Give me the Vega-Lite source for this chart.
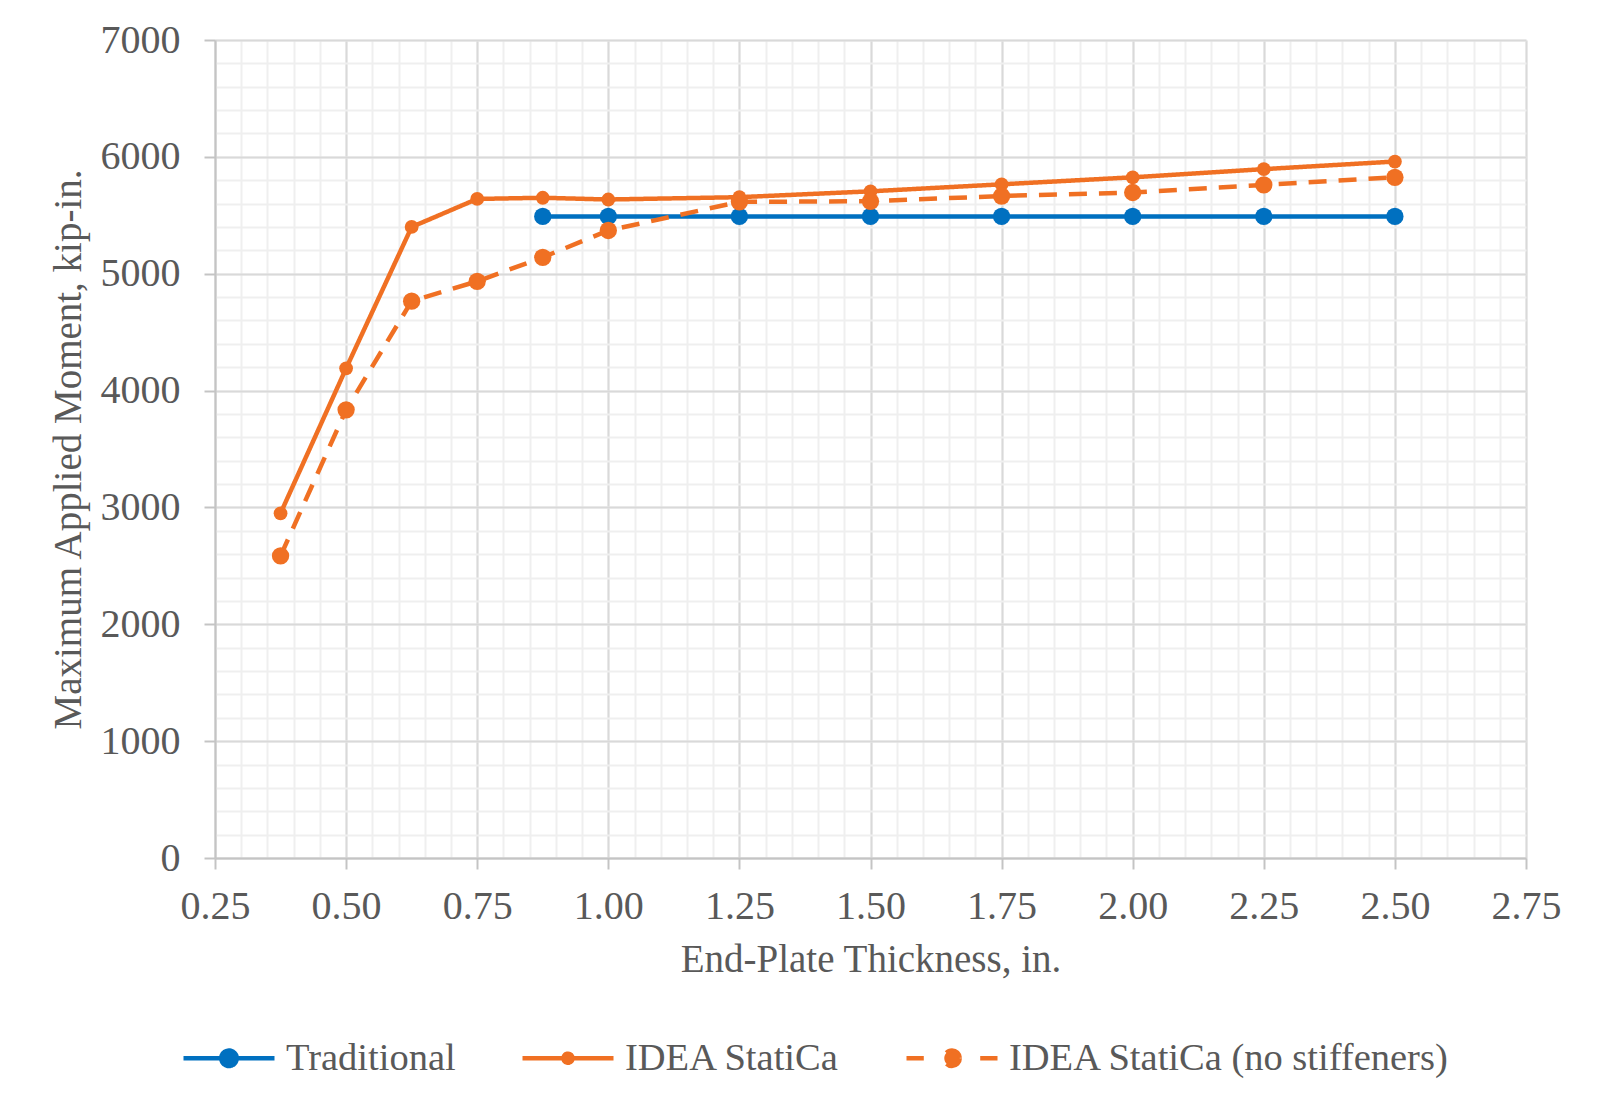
{
  "$schema": "https://vega.github.io/schema/vega-lite/v6.json",
  "autosize": {"type": "none"},
  "width": 1311,
  "height": 818,
  "padding": {"left": 215, "top": 40, "right": 74, "bottom": 251},
  "background": "white",
  "config": {
    "view": {"stroke": null},
    "font": "Liberation Serif",
    "axis": {
      "labelFont": "Liberation Serif",
      "titleFont": "Liberation Serif",
      "labelColor": "#595959",
      "titleColor": "#595959",
      "labelFontSize": 40,
      "titleFontSize": 39,
      "titleFontWeight": "normal",
      "labelFlush": false,
      "labelOverlap": false
    },
    "legend": {"symbolSize": 8281}
  },
  "data": {
    "values": [
      {"t": 0.875, "m": 5490, "s": "Traditional"},
      {"t": 1.0, "m": 5490, "s": "Traditional"},
      {"t": 1.25, "m": 5490, "s": "Traditional"},
      {"t": 1.5, "m": 5490, "s": "Traditional"},
      {"t": 1.75, "m": 5490, "s": "Traditional"},
      {"t": 2.0, "m": 5490, "s": "Traditional"},
      {"t": 2.25, "m": 5490, "s": "Traditional"},
      {"t": 2.5, "m": 5490, "s": "Traditional"},
      {"t": 0.375, "m": 2950, "s": "IDEA StatiCa"},
      {"t": 0.5, "m": 4190, "s": "IDEA StatiCa"},
      {"t": 0.625, "m": 5400, "s": "IDEA StatiCa"},
      {"t": 0.75, "m": 5640, "s": "IDEA StatiCa"},
      {"t": 0.875, "m": 5650, "s": "IDEA StatiCa"},
      {"t": 1.0, "m": 5635, "s": "IDEA StatiCa"},
      {"t": 1.25, "m": 5655, "s": "IDEA StatiCa"},
      {"t": 1.5, "m": 5705, "s": "IDEA StatiCa"},
      {"t": 1.75, "m": 5765, "s": "IDEA StatiCa"},
      {"t": 2.0, "m": 5825, "s": "IDEA StatiCa"},
      {"t": 2.25, "m": 5895, "s": "IDEA StatiCa"},
      {"t": 2.5, "m": 5960, "s": "IDEA StatiCa"},
      {"t": 0.375, "m": 2585, "s": "IDEA StatiCa (no stiffeners)"},
      {"t": 0.5, "m": 3835, "s": "IDEA StatiCa (no stiffeners)"},
      {"t": 0.625, "m": 4765, "s": "IDEA StatiCa (no stiffeners)"},
      {"t": 0.75, "m": 4935, "s": "IDEA StatiCa (no stiffeners)"},
      {"t": 0.875, "m": 5140, "s": "IDEA StatiCa (no stiffeners)"},
      {"t": 1.0, "m": 5370, "s": "IDEA StatiCa (no stiffeners)"},
      {"t": 1.25, "m": 5615, "s": "IDEA StatiCa (no stiffeners)"},
      {"t": 1.5, "m": 5620, "s": "IDEA StatiCa (no stiffeners)"},
      {"t": 1.75, "m": 5665, "s": "IDEA StatiCa (no stiffeners)"},
      {"t": 2.0, "m": 5695, "s": "IDEA StatiCa (no stiffeners)"},
      {"t": 2.25, "m": 5760, "s": "IDEA StatiCa (no stiffeners)"},
      {"t": 2.5, "m": 5825, "s": "IDEA StatiCa (no stiffeners)"}
    ]
  },
  "layer": [
    {
      "mark": {"type": "point", "opacity": 0},
      "encoding": {
        "x": {
          "field": "t", "type": "quantitative",
          "scale": {"domain": [0.25, 2.75], "nice": false, "zero": false},
          "axis": {
            "orient": "top", "title": null, "labels": false, "ticks": false, "domain": false,
            "grid": true, "gridColor": "#efefef", "gridWidth": 2, "zindex": 0,
            "values": [0.25,0.3,0.35,0.4,0.45,0.5,0.55,0.6,0.65,0.7,0.75,0.8,0.85,0.9,0.95,1.0,1.05,1.1,1.15,1.2,1.25,1.3,1.35,1.4,1.45,1.5,1.55,1.6,1.65,1.7,1.75,1.8,1.85,1.9,1.95,2.0,2.05,2.1,2.15,2.2,2.25,2.3,2.35,2.4,2.45,2.5,2.55,2.6,2.65,2.7,2.75]
          }
        },
        "y": {
          "field": "m", "type": "quantitative",
          "scale": {"domain": [0, 7000], "nice": false},
          "axis": {
            "orient": "right", "title": null, "labels": false, "ticks": false, "domain": false,
            "grid": true, "gridColor": "#efefef", "gridWidth": 2, "zindex": 0,
            "values": [0,200,400,600,800,1000,1200,1400,1600,1800,2000,2200,2400,2600,2800,3000,3200,3400,3600,3800,4000,4200,4400,4600,4800,5000,5200,5400,5600,5800,6000,6200,6400,6600,6800,7000]
          }
        }
      }
    },
    {
      "mark": {"type": "line", "strokeWidth": 4.5},
      "encoding": {
        "x": {
          "field": "t", "type": "quantitative",
          "axis": {
            "orient": "bottom", "title": "End-Plate Thickness, in.", "format": ".2f",
            "values": [0.25,0.5,0.75,1.0,1.25,1.5,1.75,2.0,2.25,2.5,2.75],
            "grid": true, "gridColor": "#d9d9d9", "gridWidth": 2,
            "domainColor": "#c4c4c4", "domainWidth": 2,
            "tickColor": "#c4c4c4", "tickWidth": 2, "tickSize": 11,
            "labelPadding": 17, "titlePadding": 14, "zindex": 0
          }
        },
        "y": {
          "field": "m", "type": "quantitative",
          "axis": {
            "orient": "left", "title": "Maximum Applied Moment, kip-in.", "format": "d",
            "values": [0,1000,2000,3000,4000,5000,6000,7000],
            "grid": true, "gridColor": "#d9d9d9", "gridWidth": 2,
            "domainColor": "#c4c4c4", "domainWidth": 2,
            "tickColor": "#c4c4c4", "tickWidth": 2, "tickSize": 11,
            "labelPadding": 24, "titlePadding": 12, "zindex": 0
          }
        },
        "color": {
          "field": "s", "type": "nominal",
          "scale": {
            "domain": ["Traditional", "IDEA StatiCa", "IDEA StatiCa (no stiffeners)"],
            "range": ["#0070C0", "#F07023", "#F07023"]
          },
          "legend": {
            "orient": "none", "legendX": -34, "legendY": 970,
            "direction": "horizontal", "title": null, "padding": 0,
            "symbolSize": 8281, "symbolStrokeWidth": 4.5,
            "symbolType": "M-1,0H1",
            "labelFont": "Liberation Serif", "labelFontSize": 38.5, "labelColor": "#595959",
            "labelOffset": 9, "labelLimit": 1000, "columnPadding": 57,
            "encode": {
              "symbols": {
                "update": {
                  "shape": {"signal": "datum.value === 'Traditional' ? 'M-1,0H1M0.17,0A0.17,0.17,0,1,1,-0.17,0A0.17,0.17,0,1,1,0.17,0Z' : datum.value === 'IDEA StatiCa' ? 'M-1,0H1M0.1,0A0.1,0.1,0,1,1,-0.1,0A0.1,0.1,0,1,1,0.1,0Z' : 'M-1,0H-0.62M0.62,0H1M0.17,0A0.17,0.17,0,1,1,-0.17,0A0.17,0.17,0,1,1,0.17,0Z'"},
                  "size": {"value": 8281},
                  "fill": {"signal": "datum.value === 'Traditional' ? '#0070C0' : '#F07023'"},
                  "stroke": {"signal": "datum.value === 'Traditional' ? '#0070C0' : '#F07023'"},
                  "strokeWidth": {"value": 4.5},
                  "strokeDash": {"value": []},
                  "opacity": {"value": 1}
                }
              }
            }
          }
        },
        "strokeDash": {
          "field": "s", "type": "nominal",
          "scale": {
            "domain": ["Traditional", "IDEA StatiCa", "IDEA StatiCa (no stiffeners)"],
            "range": [[1, 0], [1, 0], [18, 12]]
          },
          "legend": null
        },
        "order": {"field": "t", "type": "quantitative"}
      }
    },
    {
      "mark": {"type": "point", "filled": true, "opacity": 1, "shape": "circle"},
      "encoding": {
        "x": {"field": "t", "type": "quantitative", "axis": null},
        "y": {"field": "m", "type": "quantitative", "axis": null},
        "color": {"field": "s", "type": "nominal", "legend": null},
        "size": {
          "condition": {"test": "datum.s === 'IDEA StatiCa'", "value": 190},
          "value": 300
        }
      }
    }
  ],
  "resolve": {"axis": {"x": "independent", "y": "independent"}}
}
